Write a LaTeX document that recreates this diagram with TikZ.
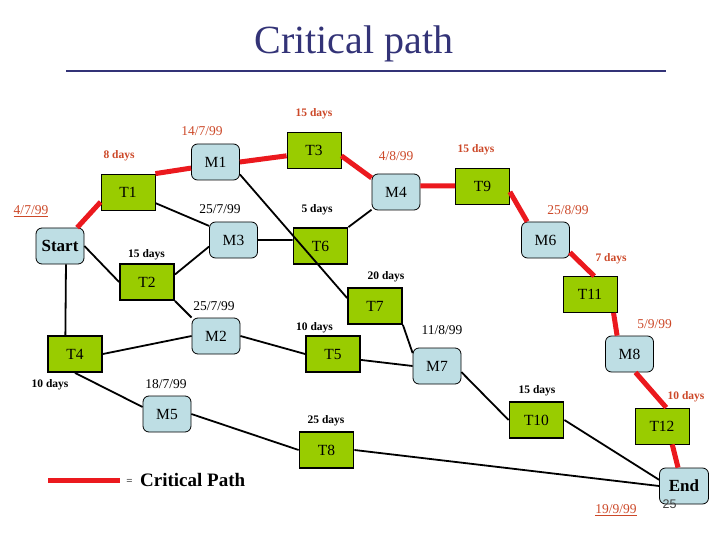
\documentclass[tikz,border=0pt]{standalone}
\usepackage{fontspec}
\setmainfont{Liberation Serif}
\newfontfamily\pgnumfont{Liberation Sans}
\newcommand\fsz[1]{\fontsize{#1}{#1}\selectfont}
\definecolor{tgreen}{RGB}{153,204,0}
\definecolor{mblue}{RGB}{190,222,228}
\definecolor{critred}{RGB}{235,25,30}
\definecolor{labred}{RGB}{204,72,40}
\definecolor{titleblue}{RGB}{51,51,119}
\begin{document}
\begin{tikzpicture}[x=1pt,y=-1pt,
  tbox/.style={draw, fill=tgreen, minimum width=54pt, minimum height=36pt, inner sep=0pt, line width=0.8pt, font=\fsz{15.5}},
  tthick/.style={tbox, line width=1.8pt},
  mbox/.style={draw, fill=mblue, rounded corners=6pt, minimum width=48pt, minimum height=36pt, inner sep=0pt, line width=0.8pt, font=\fsz{15.5}},
  crit/.style={draw=critred, line width=5pt},
  norm/.style={draw=black, line width=1.8pt},
  dayred/.style={anchor=base, text=labred, font=\bfseries\fsz{11.5}},
  dayblk/.style={anchor=base, text=black, font=\bfseries\fsz{11.5}},
  datered/.style={anchor=base, text=labred, font=\fsz{13.5}},
  dateblk/.style={anchor=base, text=black, font=\fsz{13.5}}]
\useasboundingbox (0,0) rectangle (720,540);

% title
\node[anchor=base, text=titleblue, font=\fsz{40}] (title) at (354,54) {Critical path};
\coordinate (r1) at (66,71.5);
\coordinate (r2) at (666,71.5);
\draw[titleblue, line width=2pt] (r1) -- (r2);

% nodes
\node[mbox, font=\bfseries\fsz{17}] (Start) at (60,246) {Start};
\node[tbox] (T1) at (128,192) {T1};
\node[mbox] (M1) at (215.5,162) {M1};
\node[tbox] (T3) at (314,150) {T3};
\node[mbox] (M4) at (396,192) {M4};
\node[tbox] (T9) at (482.5,186) {T9};
\node[mbox] (M6) at (545.5,240) {M6};
\node[tbox] (T11) at (590,294.5) {T11};
\node[mbox] (M8) at (629.5,354) {M8};
\node[tbox] (T12) at (662,426) {T12};
\node[mbox, font=\bfseries\fsz{17}, minimum width=49pt] (End) at (684,486) {End};
\node[mbox] (M3) at (233.5,240) {M3};
\node[tthick] (T6) at (320.5,246) {T6};
\node[tthick] (T2) at (147,282) {T2};
\node[mbox] (M2) at (216,336) {M2};
\node[tthick] (T4) at (75,354) {T4};
\node[mbox] (M5) at (167,414) {M5};
\node[tthick] (T5) at (333,354) {T5};
\node[tthick] (T7) at (375,306) {T7};
\node[mbox] (M7) at (437,366) {M7};
\node[tthick] (T10) at (536.5,420) {T10};
\node[tthick] (T8) at (326.5,450) {T8};

% black connectors
\draw[norm] (Start.east) -- (T2.west);
\draw[norm] (Start.-72) -- (T4.117);
\draw[norm] (T1.-22) -- (M3.150);
\draw[norm] (M1.-27) -- (T7.164);
\draw[norm] (M3.east) -- (T6.168);
\draw[norm] (T2.15) -- (M3.195);
\draw[norm] (T2.south east) -- (M2.north west);
\draw[norm] (T4.east) -- (M2.west);
\draw[norm] (T4.south) -- (M5.164);
\draw[norm] (M2.east) -- (T5.west);
\draw[norm] (T6.north east) -- (M4.216);
\draw[norm] (T5.-12) -- (M7.west);
\draw[norm] (T7.south east) -- (M7.152);
\draw[norm] (M7.-14) -- (T10.west);
\draw[norm] (T10.east) -- (End.166);
\draw[norm] (M5.east) -- (T8.west);
\draw[norm] (T8.east) -- (End.west);

% critical path
\draw[crit] (Start.47) -- (T1.200);
\draw[crit] (T1.north east) -- (M1.194);
\draw[crit] (M1.east) -- (T3.192);
\draw[crit] (T3.-12) -- (M4.150);
\draw[crit] (M4.14) -- (T9.west);
\draw[crit] (T9.-12) -- (M6.135);
\draw[crit] (M6.-27) -- (T11.77);
\draw[crit] (T11.-38) -- (M8.124);
\draw[crit] (M8.-72) -- (T12.77);
\draw[crit] (T12.-61) -- (End.108);

% labels
\node[dayred] (d1) at (314,117) {15 days};
\node[dayred] (d2) at (119,159) {8 days};
\node[dayred] (d3) at (476,153) {15 days};
\node[dayred] (d4) at (611,261) {7 days};
\node[dayred] (d5) at (686,399) {10 days};
\node[dayblk] (d6) at (317,213) {5 days};
\node[dayblk] (d7) at (146.5,258) {15 days};
\node[dayblk] (d8) at (386,279) {20 days};
\node[dayblk] (d9) at (314.5,330) {10 days};
\node[dayblk] (d10) at (50,387) {10 days};
\node[dayblk] (d11) at (537,393) {15 days};
\node[dayblk] (d12) at (326,423) {25 days};

\node[datered] (a1) at (202,136) {14/7/99};
\node[datered] (a2) at (396,160.5) {4/8/99};
\node[datered] (a3) at (568,214.5) {25/8/99};
\node[datered] (a4) at (654.5,328.5) {5/9/99};
\node[datered] (a5) at (31,214.5) {\underline{4/7/99}};
\node[datered] (a6) at (616,513.5) {\underline{19/9/99}};
\node[dateblk] (b1) at (220,213.5) {25/7/99};
\node[dateblk] (b2) at (214,310) {25/7/99};
\node[dateblk] (b3) at (442,334.5) {11/8/99};
\node[dateblk] (b4) at (166,388.5) {18/7/99};

% legend
\coordinate (L1) at (48,480);
\coordinate (L2) at (120,480);
\draw[crit] (L1) -- (L2);
\node[anchor=base, font=\fsz{11}] (eq) at (129.5,484) {=};
\node[anchor=base west, inner sep=0pt, font=\bfseries\fsz{19}] (leg) at (140,486) {Critical Path};

% page number
\node[anchor=base, inner sep=0pt, text=black!75, font=\pgnumfont\fsz{12.5}] (pg) at (669.5,508) {25};
\end{tikzpicture}
\end{document}
